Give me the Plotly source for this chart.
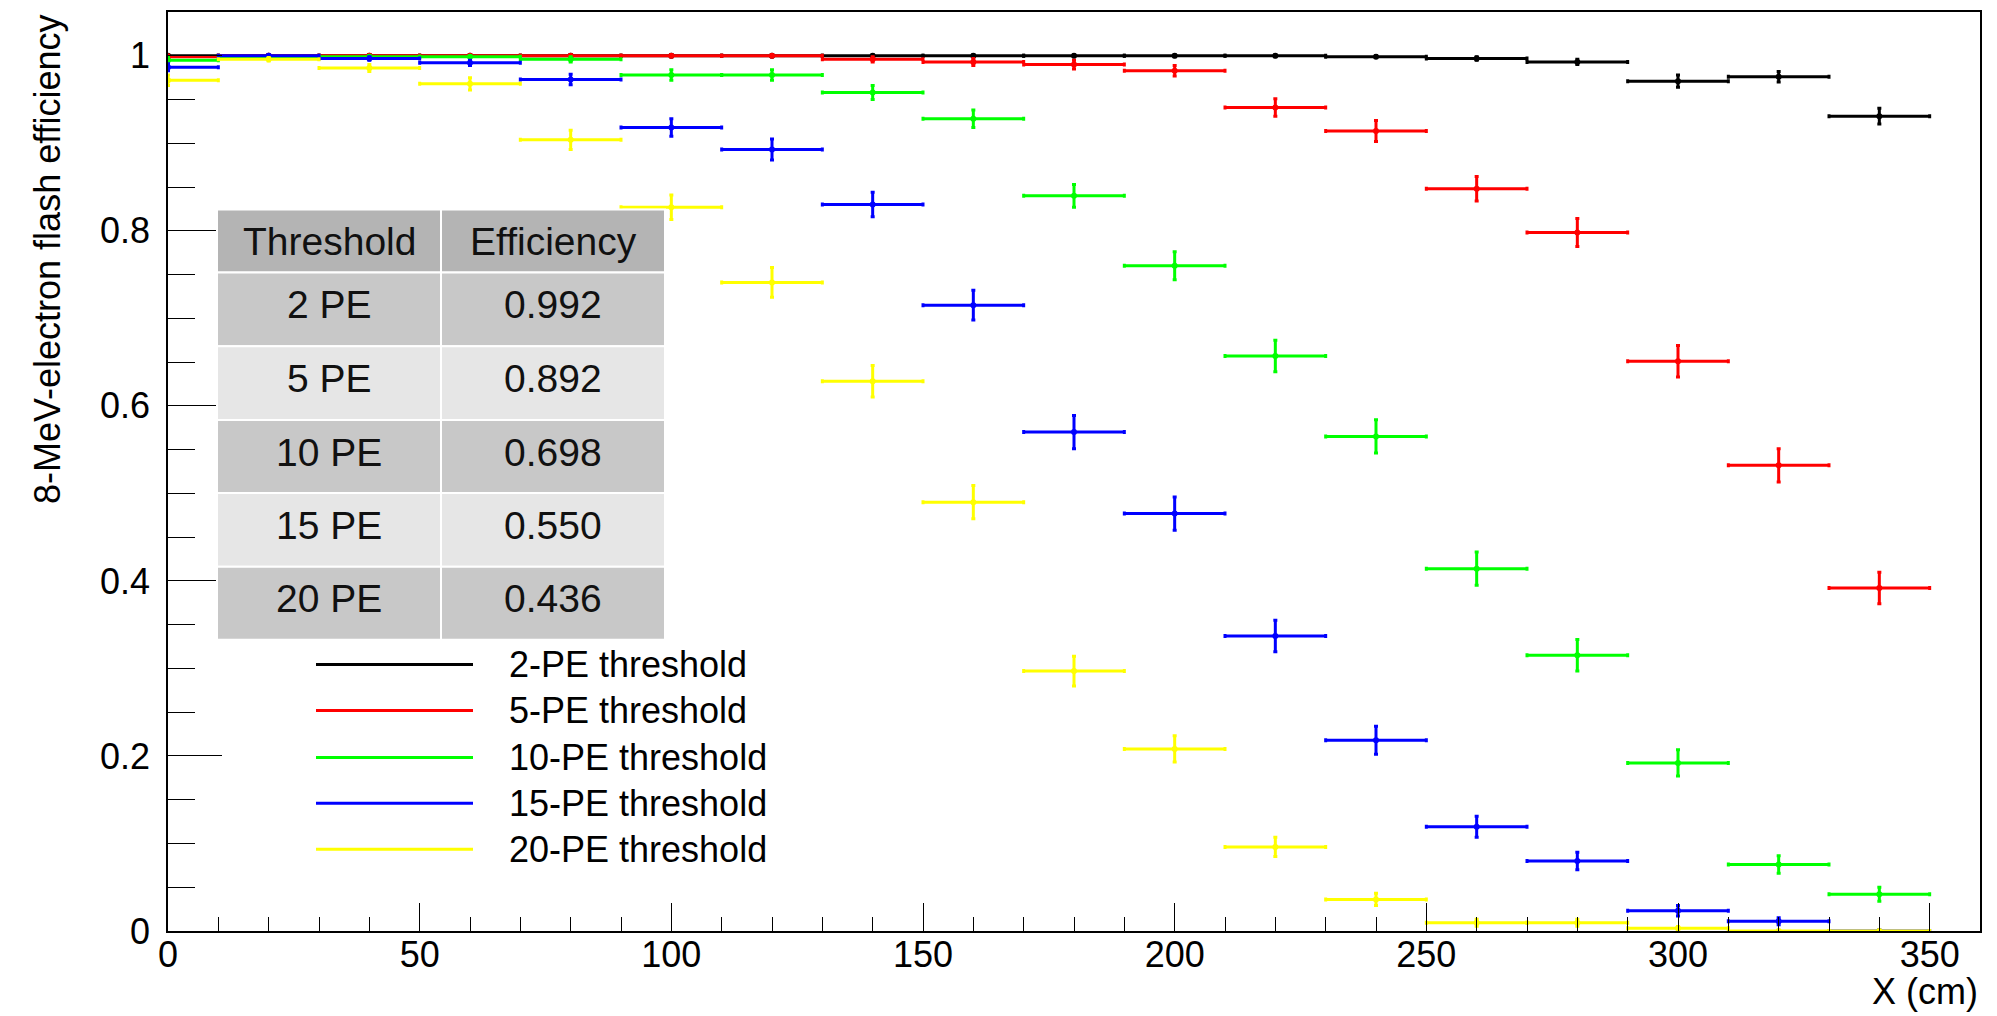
import plotly.graph_objects as go

# ---------------- data ----------------
x_centers = [0, 20, 40, 60, 80, 100, 120, 140, 160, 180, 200, 220, 240, 260, 280, 300, 320, 340]
bin_half_width = 10

series_names = ["2-PE threshold", "5-PE threshold", "10-PE threshold", "15-PE threshold", "20-PE threshold"]
series_colors = ["#000000", "#ff0000", "#00ff00", "#0000ff", "#ffff00"]

eff_2pe = [1.000, 1.000, 1.000, 1.000, 1.000, 1.000, 1.000, 1.000, 1.000, 1.000, 1.000, 1.000,
           0.999, 0.997, 0.993, 0.971, 0.976, 0.931]
err_2pe = [0.001, 0.001, 0.001, 0.001, 0.001, 0.001, 0.001, 0.001, 0.001, 0.001, 0.001, 0.001,
           0.001, 0.002, 0.003, 0.007, 0.006, 0.009]

eff_5pe = [0.999, 1.000, 1.000, 1.000, 1.000, 1.000, 1.000, 0.996, 0.993, 0.990, 0.983, 0.941,
           0.914, 0.848, 0.798, 0.651, 0.532, 0.392]
err_5pe = [0.002, 0.001, 0.001, 0.001, 0.001, 0.001, 0.001, 0.003, 0.004, 0.005, 0.006, 0.010,
           0.012, 0.014, 0.016, 0.018, 0.019, 0.018]

eff_10pe = [0.995, 0.999, 0.999, 0.999, 0.996, 0.978, 0.978, 0.958, 0.928, 0.840, 0.760, 0.657,
            0.565, 0.414, 0.315, 0.192, 0.076, 0.042]
err_10pe = [0.003, 0.001, 0.001, 0.001, 0.003, 0.006, 0.006, 0.008, 0.010, 0.013, 0.016, 0.018,
            0.019, 0.019, 0.018, 0.015, 0.010, 0.008]

eff_15pe = [0.987, 1.000, 0.997, 0.992, 0.973, 0.918, 0.893, 0.830, 0.715, 0.570, 0.477, 0.337,
            0.218, 0.119, 0.080, 0.023, 0.011, 0.000]
err_15pe = [0.004, 0.001, 0.002, 0.003, 0.006, 0.010, 0.012, 0.014, 0.017, 0.019, 0.019, 0.018,
            0.016, 0.012, 0.010, 0.006, 0.004, 0.000]

eff_20pe = [0.972, 0.996, 0.986, 0.968, 0.904, 0.827, 0.741, 0.628, 0.490, 0.297, 0.208, 0.096,
            0.036, 0.0095, 0.0095, 0.003, 0.000, 0.000]
err_20pe = [0.006, 0.002, 0.004, 0.007, 0.011, 0.014, 0.017, 0.018, 0.019, 0.017, 0.015, 0.011,
            0.007, 0.004, 0.004, 0.002, 0.000, 0.000]

series_values = [eff_2pe, eff_5pe, eff_10pe, eff_15pe, eff_20pe]
series_errors = [err_2pe, err_5pe, err_10pe, err_15pe, err_20pe]

table_header = ["Threshold", "Efficiency"]
table_thresholds = ["2 PE", "5 PE", "10 PE", "15 PE", "20 PE"]
table_efficiencies = ["0.992", "0.892", "0.698", "0.550", "0.436"]

y_tick_vals = [0, 0.2, 0.4, 0.6, 0.8, 1.0]
y_tick_text = ["0", "0.2", "0.4", "0.6", "0.8", "1"]
x_tick_vals = [0, 50, 100, 150, 200, 250, 300, 350]
x_tick_text = ["0", "50", "100", "150", "200", "250", "300", "350"]

x_title = "X (cm)"
y_title = "8-MeV-electron flash efficiency"

# ---------------- figure ----------------
FONT = "Liberation Sans, Arial, Helvetica, sans-serif"
W, H = 1997, 1016
ML, MR, MT, MB = 168, 17, 10, 85
PW, PH = W - ML - MR, H - MT - MB


def px_to_paper_x(px):
    return (px - ML) / PW


def px_to_paper_y(py):
    return (H - MB - py) / PH


fig = go.Figure()

for name, color, vals, errs in zip(series_names, series_colors, series_values, series_errors):
    fig.add_trace(go.Scatter(
        x=x_centers, y=vals, name=name, mode="markers",
        marker=dict(size=0, color=color),
        error_x=dict(type="constant", value=bin_half_width, color=color, thickness=3, width=2),
        error_y=dict(type="data", array=errs, color=color, thickness=3, width=2),
        showlegend=False,
    ))

shapes = []
annotations = []

# ---- table overlay (grey cells with white separators) ----
col_edges_px = [217, 441, 665]
header_edges_px = [208, 271]
row_edges_px = [271, 345, 419, 492, 566, 639]
header_text_y_px = 240
row_text_y_px = [303.5, 377.5, 451, 524.5, 598]
header_fill = "#b4b4b4"
row_fills = ["#c8c8c8", "#e6e6e6"]
TABLE_FONT = dict(family=FONT, size=39, color="#111111")

for c in range(2):
    shapes.append(dict(type="rect", xref="paper", yref="paper", layer="above",
                       x0=px_to_paper_x(col_edges_px[c]), x1=px_to_paper_x(col_edges_px[c + 1]),
                       y0=px_to_paper_y(header_edges_px[1]), y1=px_to_paper_y(header_edges_px[0]),
                       fillcolor=header_fill, line=dict(color="white", width=2)))
    annotations.append(dict(text=table_header[c], xref="paper", yref="paper",
                            x=px_to_paper_x((col_edges_px[c] + col_edges_px[c + 1]) / 2),
                            y=px_to_paper_y(header_text_y_px), xanchor="center", yanchor="middle",
                            showarrow=False, font=TABLE_FONT))

table_columns = [table_thresholds, table_efficiencies]
for r in range(len(table_thresholds)):
    for c in range(2):
        shapes.append(dict(type="rect", xref="paper", yref="paper", layer="above",
                           x0=px_to_paper_x(col_edges_px[c]), x1=px_to_paper_x(col_edges_px[c + 1]),
                           y0=px_to_paper_y(row_edges_px[r + 1]), y1=px_to_paper_y(row_edges_px[r]),
                           fillcolor=row_fills[r % 2], line=dict(color="white", width=2)))
        annotations.append(dict(text=table_columns[c][r], xref="paper", yref="paper",
                                x=px_to_paper_x((col_edges_px[c] + col_edges_px[c + 1]) / 2),
                                y=px_to_paper_y(row_text_y_px[r]), xanchor="center", yanchor="middle",
                                showarrow=False, font=TABLE_FONT))

# ---- legend (ROOT-style long line samples) ----
legend_rows_px = [664, 710, 757, 803, 849]
for name, color, ypx in zip(series_names, series_colors, legend_rows_px):
    yp = px_to_paper_y(ypx)
    shapes.append(dict(type="line", xref="paper", yref="paper",
                       x0=px_to_paper_x(316), x1=px_to_paper_x(473), y0=yp, y1=yp,
                       line=dict(color=color, width=3)))
    annotations.append(dict(text=name, xref="paper", yref="paper",
                            x=px_to_paper_x(507), y=yp, xanchor="left", yanchor="middle",
                            showarrow=False, font=dict(family=FONT, size=36, color="black")))

# ---- axis titles (ROOT-style, aligned to axis ends) ----
annotations.append(dict(text=y_title, xref="paper", yref="paper", textangle=-90,
                        x=px_to_paper_x(47), y=1.0, xanchor="center", yanchor="top",
                        showarrow=False, font=dict(family=FONT, size=36, color="black")))
annotations.append(dict(text=x_title, xref="paper", yref="paper",
                        x=1.0, y=px_to_paper_y(992), xanchor="right", yanchor="middle",
                        showarrow=False, font=dict(family=FONT, size=36, color="black")))

fig.update_layout(
    width=W, height=H, autosize=False,
    margin=dict(l=ML, r=MR, t=MT, b=MB, pad=0),
    paper_bgcolor="white", plot_bgcolor="white",
    font=dict(family=FONT, size=36, color="black"),
    shapes=shapes, annotations=annotations,
    showlegend=False,
)

fig.update_xaxes(
    range=[0, 360], showgrid=False, zeroline=False,
    showline=True, mirror=True, linecolor="black", linewidth=1.5,
    tickmode="array", tickvals=x_tick_vals, ticktext=x_tick_text,
    ticks="inside", ticklen=28, tickwidth=1.2, tickcolor="black",
    tickfont=dict(family=FONT, size=36, color="black"),
    ticklabelstandoff=-9,
    minor=dict(ticks="inside", ticklen=14, dtick=10, tick0=0, tickwidth=1.2, tickcolor="black", showgrid=False),
)
fig.update_yaxes(
    range=[0, 1.05], showgrid=False, zeroline=False,
    showline=True, mirror=True, linecolor="black", linewidth=1.5,
    tickmode="array", tickvals=y_tick_vals, ticktext=y_tick_text,
    ticks="inside", ticklen=54, tickwidth=1.2, tickcolor="black",
    tickfont=dict(family=FONT, size=36, color="black"),
    ticklabelstandoff=9,
    minor=dict(ticks="inside", ticklen=27, dtick=0.05, tick0=0, tickwidth=1.2, tickcolor="black", showgrid=False),
)

fig.write_html("out.html", config={"displayModeBar": False},
               post_script="document.body.style.margin='0';document.body.style.overflow='hidden';")
